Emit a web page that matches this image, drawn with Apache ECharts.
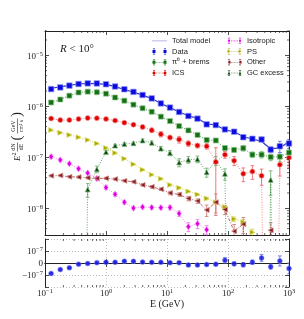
<!DOCTYPE html>
<html><head><meta charset="utf-8">
<script src="https://cdn.jsdelivr.net/npm/echarts@6/dist/echarts.min.js"></script>
<style>html,body{margin:0;padding:0;background:#fff}#c{width:304px;height:319px}</style>
</head><body><div id="c"></div>
<script>
// value used for points that fall below the plotted range (zero / negative in the original)
const OFF = 1e-20;
const energies = [0.126,0.178,0.251,0.355,0.501,0.708,1.0,1.41,2.0,2.82,3.98,5.62,7.94,11.2,15.8,22.4,31.6,44.7,63.1,89.1,126,178,251,355,501,708,1000];
const dataFlux = [2.18e-6,2.35e-6,2.55e-6,2.74e-6,2.82e-6,2.81e-6,2.71e-6,2.45e-6,2.16e-6,1.92e-6,1.67e-6,1.43e-6,1.14e-6,9.46e-7,7.75e-7,6.46e-7,5.74e-7,4.43e-7,4.29e-7,3.53e-7,3.18e-7,2.48e-7,2.31e-7,2.24e-7,1.42e-7,1.65e-7,1.87e-7];
const dataErr = [0.02,0.02,0.02,0.02,0.02,0.02,0.02,0.02,0.02,0.02,0.02,0.025,0.025,0.03,0.03,0.035,0.04,0.045,0.05,0.06,0.07,0.08,0.09,0.1,0.12,0.25,0.2];
const totalModel = [2.26e-6,2.40e-6,2.58e-6,2.74e-6,2.82e-6,2.80e-6,2.70e-6,2.44e-6,2.14e-6,1.90e-6,1.66e-6,1.42e-6,1.14e-6,9.45e-7,7.74e-7,6.55e-7,5.82e-7,4.50e-7,4.34e-7,3.42e-7,3.21e-7,2.53e-7,2.29e-7,2.05e-7,1.47e-7,1.53e-7,2.05e-7];
const pi0Flux = [1.19e-6,1.36e-6,1.62e-6,1.87e-6,1.94e-6,1.89e-6,1.77e-6,1.49e-6,1.29e-6,1.08e-6,9.17e-7,7.82e-7,6.28e-7,5.14e-7,4.10e-7,3.37e-7,2.75e-7,2.19e-7,2.14e-7,1.52e-7,1.40e-7,1.51e-7,1.13e-7,1.13e-7,1.01e-7,1.03e-7,1.24e-7];
const pi0Err = [0.04,0.04,0.035,0.03,0.03,0.03,0.03,0.03,0.03,0.03,0.035,0.035,0.04,0.04,0.05,0.05,0.06,0.07,0.08,0.09,0.1,0.12,0.12,0.14,0.15,0.2,0.2];
const icsFlux = [5.77e-7,5.38e-7,5.38e-7,5.64e-7,5.90e-7,5.87e-7,5.66e-7,5.26e-7,4.79e-7,4.37e-7,3.95e-7,3.40e-7,2.85e-7,2.45e-7,2.24e-7,1.87e-7,1.70e-7,1.65e-7,8.11e-8,1.13e-7,8.61e-8,4.76e-8,5.28e-8,4.35e-8,OFF,7.18e-8,9.86e-8];
const icsErr = [0.06,0.05,0.05,0.05,0.05,0.05,0.05,0.05,0.06,0.07,0.08,0.1,0.12,0.1,0.15,0.12,0.1,0.12,0.9,0.15,0.2,0.3,0.3,0.35,0,0.4,0.35];
const isoFlux = [1.03e-7,8.89e-8,7.50e-8,5.98e-8,4.92e-8,3.83e-8,2.55e-8,1.89e-8,1.32e-8,1.01e-8,1.06e-8,1.04e-8,1.03e-8,1.04e-8,7.89e-9,4.37e-9,5.01e-9,3.81e-9,OFF,OFF,OFF,OFF,OFF,OFF,OFF,OFF,OFF];
const isoErr = [0.08,0.06,0.06,0.06,0.06,0.06,0.08,0.08,0.08,0.08,0.08,0.08,0.08,0.1,0.12,0.2,0.2,0.2,0,0,0,0,0,0,0,0,0];
const psFlux = [3.42e-7,3.03e-7,2.75e-7,2.48e-7,2.19e-7,1.87e-7,1.53e-7,1.22e-7,9.42e-8,7.34e-8,5.71e-8,4.55e-8,3.79e-8,2.88e-8,2.52e-8,2.15e-8,1.87e-8,1.56e-8,1.32e-8,1.06e-8,6.15e-9,5.36e-9,3.40e-9,OFF,OFF,OFF,OFF];
const psErr = [0.04,0.04,0.04,0.04,0.04,0.04,0.04,0.04,0.04,0.04,0.04,0.04,0.05,0.05,0.05,0.05,0.05,0.06,0.06,0.08,0.1,0.12,0.15,0,0,0,0];
const otherFlux = [4.35e-8,4.41e-8,4.16e-8,4.10e-8,3.97e-8,3.88e-8,3.88e-8,3.74e-8,3.47e-8,3.31e-8,2.88e-8,2.64e-8,2.37e-8,2.00e-8,1.87e-8,1.56e-8,1.39e-8,9.25e-9,1.32e-8,9.46e-9,3.56e-9,4.90e-9,OFF,OFF,3.72e-9,OFF,OFF];
const otherErr = [0.05,0.05,0.05,0.05,0.05,0.05,0.05,0.05,0.05,0.05,0.06,0.06,0.06,0.08,0.08,0.1,0.1,0.25,0.45,0.2,0.35,0.35,0,0,0.4,0,0];
const gcFlux = [OFF,OFF,OFF,OFF,2.35e-8,5.85e-8,1.27e-7,1.70e-7,1.82e-7,1.89e-7,2.14e-7,1.93e-7,1.49e-7,1.22e-7,7.96e-8,9.01e-8,9.20e-8,5.10e-8,8.61e-8,4.76e-8,OFF,OFF,OFF,OFF,3.62e-8,OFF,OFF];
const gcErr = [0,0,0,0,0.3,0.15,0.08,0.06,0.06,0.06,0.07,0.08,0.1,0.12,0.18,0.15,0.15,0.2,0.2,0.25,0,0,0,0,0.5,0,0];
const residual = [-8.7e-8,-5.5e-8,-4.0e-8,-1.0e-8,-0.4e-8,0.3e-8,0.7e-8,0.7e-8,1.5e-8,1.4e-8,0.8e-8,0.6e-8,0.6e-8,0.3e-8,0.3e-8,-1.7e-8,-1.7e-8,-1.3e-8,-1.0e-8,2.3e-8,-0.7e-8,-1.4e-8,0.7e-8,4.2e-8,-3.1e-8,1.7e-8,-4.5e-8];
const residualErr = [0.4e-8,0.4e-8,0.4e-8,0.4e-8,0.4e-8,0.4e-8,0.4e-8,0.4e-8,0.4e-8,0.4e-8,0.5e-8,0.5e-8,0.5e-8,0.6e-8,0.6e-8,0.7e-8,0.7e-8,0.8e-8,0.9e-8,2.2e-8,1.5e-8,1.8e-8,1.7e-8,2.8e-8,2.0e-8,4.2e-8,4.5e-8];
const xMinorTicks = [0.2,0.3,0.4,0.5,0.6,0.7,0.8,0.9,2,3,4,5,6,7,8,9,20,30,40,50,60,70,80,90,200,300,400,500,600,700,800,900];
const yMinorTicks = [4e-9,5e-9,6e-9,7e-9,8e-9,9e-9,2e-8,3e-8,4e-8,5e-8,6e-8,7e-8,8e-8,9e-8,2e-7,3e-7,4e-7,5e-7,6e-7,7e-7,8e-7,9e-7,2e-6,3e-6,4e-6,5e-6,6e-6,7e-6,8e-6,9e-6,2e-5,3e-5];

const SERIF = 'Liberation Serif';
const SANS = 'Liberation Sans';
const INK = '#222';

function supLabel(exp, neg) {
  return '{b|' + (neg ? '\u221210' : '10') + '}{s|' + (exp < 0 ? '\u2212' + (-exp) : exp) + '}';
}
function logLabel(v) {
  if (v <= 0) return '';
  const l = Math.log10(v), r = Math.round(l);
  if (Math.abs(l - r) > 1e-6) return '';
  return supLabel(r, false);
}
function resLabel(v) {
  if (Math.abs(v) < 1e-12) return '{b|0}';
  const n = v / 1e-7;
  if (Math.abs(n - 1) < 1e-6) return supLabel(-7, false);
  if (Math.abs(n + 1) < 1e-6) return supLabel(-7, true);
  return '';
}
const rich = {
  b: {fontFamily: SERIF, fontSize: 9, color: INK, padding: [2, 0, 0, 0], lineHeight: 10},
  s: {fontFamily: SERIF, fontSize: 6.5, color: INK, verticalAlign: 'top', lineHeight: 7}
};
const axLine = {show: true, lineStyle: {color: INK, width: 1}};
const tick = {show: true, inside: true, length: 4, lineStyle: {color: INK, width: 0.8}};

function xAx(grid, pos, labels) {
  return {type: 'log', logBase: 10, min: 0.1, max: 1000, gridIndex: grid, position: pos,
    axisLine: axLine, axisTick: tick,
    axisLabel: labels ? {show: true, formatter: logLabel, rich: rich, margin: 1} : {show: false},
    splitLine: (grid === 1 && pos === 'bottom') ? {show: true, lineStyle: {color: '#aaa', type: [1, 2], width: 0.8}} : {show: false},
    name: (grid === 1 && pos === 'bottom') ? 'E (GeV)' : '', nameLocation: 'middle', nameGap: 12,
    nameTextStyle: {fontFamily: SERIF, fontSize: 10, color: INK}};
}
function yAxMain(pos, labels) {
  return {type: 'log', logBase: 10, min: 3e-9, max: 3e-5, gridIndex: 0, position: pos,
    axisLine: axLine, axisTick: tick,
    axisLabel: labels ? {show: true, formatter: logLabel, rich: rich, margin: 2} : {show: false},
    splitLine: {show: false}};
}
function yAxRes(pos, labels) {
  return {type: 'value', min: -2e-7, max: 2e-7, interval: 1e-7, gridIndex: 1, position: pos,
    axisLine: axLine, axisTick: tick,
    axisLabel: labels ? {show: true, formatter: resLabel, rich: rich, margin: 2} : {show: false},
    splitLine: labels ? {show: true, lineStyle: {color: '#aaa', type: [1, 2], width: 0.8}} : {show: false}};
}

function errRender(color, capW) {
  return function (params, api) {
    const x = api.value(0), lo = api.value(1), hi = api.value(2);
    const p1 = api.coord([x, lo]), p2 = api.coord([x, hi]);
    const st = {stroke: color, lineWidth: 1};
    return {type: 'group', children: [
      {type: 'line', shape: {x1: p1[0], y1: p1[1], x2: p2[0], y2: p2[1]}, style: st},
      {type: 'line', shape: {x1: p1[0] - capW, y1: p1[1], x2: p1[0] + capW, y2: p1[1]}, style: st},
      {type: 'line', shape: {x1: p2[0] - capW, y1: p2[1], x2: p2[0] + capW, y2: p2[1]}, style: st}
    ]};
  };
}
function errSeries(vals, rel, color, z) {
  const d = [];
  vals.forEach((v, i) => {
    if (v > 1e-15 && rel[i] > 0) d.push([energies[i], Math.max(v * (1 - rel[i]), 1e-15), v * (1 + rel[i])]);
  });
  return {type: 'custom', xAxisIndex: 0, yAxisIndex: 0, data: d, renderItem: errRender(color, 1.8),
    clip: true, silent: true, z: z};
}
function compSeries(name, vals, color, border, lineColor, symbol, size, lineType, z) {
  return {type: 'line', name: name, xAxisIndex: 0, yAxisIndex: 0,
    data: energies.map((e, i) => [e, vals[i]]),
    symbol: symbol, symbolSize: size, showSymbol: true, clip: true,
    itemStyle: {color: color, borderColor: border, borderWidth: 0.7},
    lineStyle: {color: lineColor, width: 1, type: lineType, opacity: 0.85},
    silent: true, z: z};
}

const TRI_R = 'path://M0,0L10,5L0,10z';
const TRI_L = 'path://M10,0L0,5L10,10z';
const TRI_U = 'path://M5,0L10,10L0,10z';

// legend icons (pair of markers with error bars joined by a dotted line)
function mk(kind, cx, cy, r) {
  if (kind === 'sq') return `M${cx-r},${cy-r}h${2*r}v${2*r}h${-2*r}z`;
  if (kind === 'ci') return `M${cx-r},${cy}a${r},${r} 0 1,1 ${2*r},0a${r},${r} 0 1,1 ${-2*r},0z`;
  if (kind === 'di') return `M${cx},${cy-r*1.3}L${cx+r*0.8},${cy}L${cx},${cy+r*1.3}L${cx-r*0.8},${cy}z`;
  if (kind === 'tr') return `M${cx-r},${cy-r}L${cx+r},${cy}L${cx-r},${cy+r}z`;
  if (kind === 'tl') return `M${cx+r},${cy+r}L${cx-r},${cy}L${cx+r},${cy-r}z`;
  return `M${cx},${cy-r}L${cx+r},${cy+r}L${cx-r},${cy+r}z`;
}
function icon(kind, dotted) {
  let p = 'M0,0h0.2v0.2h-0.2zM29.8,13.8h0.2v0.2h-0.2z';
  [4, 26].forEach(x => {
    p += `M${x-0.6},1h1.2v12h-1.2zM${x-2.2},1h4.4v1h-4.4zM${x-2.2},12h4.4v1h-4.4z`;
    p += mk(kind, x, 7, 3);
  });
  if (dotted) [9, 12, 15, 18, 21].forEach(x => { p += `M${x-0.8},6.4h1.6v1.2h-1.6z`; });
  return 'path://' + p;
}
const LINE_ICON = 'path://M0,0h0.2v0.2h-0.2zM29.8,13.8h0.2v0.2h-0.2zM0,6.2h30v1.6h-30z';

const legendBase = {orient: 'vertical', itemWidth: 15, itemHeight: 7, itemGap: 2, padding: 0,
  textStyle: {fontFamily: SANS, fontSize: 7.5, color: INK, lineHeight: 8.7}, itemStyle: {borderWidth: 0},
  selectedMode: false};

const option = {
  animation: false,
  backgroundColor: '#fff',
  title: {text: '{i|R} < 10\u00b0', left: 60, top: 44, padding: 0,
    textStyle: {fontFamily: SERIF, fontSize: 11, fontWeight: 'normal', color: INK,
      rich: {i: {fontFamily: SERIF, fontSize: 11, fontStyle: 'italic', color: INK}}}},
  legend: [
    Object.assign({}, legendBase, {left: 152, top: 36.5, data: [
      {name: 'Total model', icon: LINE_ICON, itemStyle: {color: '#9d9de0'}},
      {name: 'Data', icon: icon('sq', false)},
      {name: '\u03c0\u2070 + brems', icon: icon('sq', true)},
      {name: 'ICS', icon: icon('ci', true)}]}),
    Object.assign({}, legendBase, {left: 227, top: 36.5, data: [
      {name: 'Isotropic', icon: icon('di', true)},
      {name: 'PS', icon: icon('tr', true)},
      {name: 'Other', icon: icon('tl', true)},
      {name: 'GC excess', icon: icon('tu', true)}]})
  ],
  grid: [
    {left: 45, top: 31, width: 244, height: 204, outerBoundsMode: 'none'},
    {left: 45, top: 239, width: 244, height: 48, outerBoundsMode: 'none'}
  ],
  xAxis: [xAx(0, 'bottom', false), xAx(0, 'top', false), xAx(1, 'bottom', true), xAx(1, 'top', false)],
  yAxis: [yAxMain('left', true), yAxMain('right', false), yAxRes('left', true), yAxRes('right', false)],
  graphic: [{
    type: 'group', x: 17, y: 134, rotation: Math.PI / 2, silent: true,
    children: [
      {type: 'text', style: {text: 'E', x: -27, y: 1, font: 'italic 9px ' + SERIF, fill: INK, align: 'left', verticalAlign: 'middle'}},
      {type: 'text', style: {text: '2', x: -21.5, y: -3, font: '6px ' + SERIF, fill: INK, align: 'left', verticalAlign: 'middle'}},
      {type: 'text', style: {text: 'dN', x: -13, y: -3.6, font: '6px ' + SERIF, fill: INK, align: 'center', verticalAlign: 'middle'}},
      {type: 'line', shape: {x1: -17.5, y1: 0.5, x2: -8.5, y2: 0.5}, style: {stroke: INK, lineWidth: 0.6}},
      {type: 'text', style: {text: 'dE', x: -13, y: 4.4, font: '6px ' + SERIF, fill: INK, align: 'center', verticalAlign: 'middle'}},
      {type: 'text', style: {text: '(', x: -4, y: 0.5, font: '15px ' + SERIF, fill: INK, align: 'center', verticalAlign: 'middle'}},
      {type: 'text', style: {text: 'GeV', x: 8, y: -3.6, font: '6px ' + SERIF, fill: INK, align: 'center', verticalAlign: 'middle'}},
      {type: 'line', shape: {x1: 0.5, y1: 0.5, x2: 15.5, y2: 0.5}, style: {stroke: INK, lineWidth: 0.6}},
      {type: 'text', style: {text: 'cm\u00b2 s', x: 8, y: 4.4, font: '5.5px ' + SERIF, fill: INK, align: 'center', verticalAlign: 'middle'}},
      {type: 'text', style: {text: ')', x: 19.5, y: 0.5, font: '15px ' + SERIF, fill: INK, align: 'center', verticalAlign: 'middle'}}
    ]
  }],
  series: [
    // minor ticks (main panel)
    {type: 'custom', xAxisIndex: 0, yAxisIndex: 0, silent: true, z: 10,
      data: xMinorTicks.map(v => [v, 1e-6]),
      renderItem: function (params, api) {
        const cs = params.coordSys, x = api.coord([api.value(0), api.value(1)])[0];
        const st = {stroke: INK, lineWidth: 0.7};
        return {type: 'group', children: [
          {type: 'line', shape: {x1: x, y1: cs.y + cs.height, x2: x, y2: cs.y + cs.height - 2}, style: st},
          {type: 'line', shape: {x1: x, y1: cs.y, x2: x, y2: cs.y + 2}, style: st}]};
      }},
    {type: 'custom', xAxisIndex: 0, yAxisIndex: 0, silent: true, z: 10,
      data: yMinorTicks.map(v => [1, v]),
      renderItem: function (params, api) {
        const cs = params.coordSys, y = api.coord([api.value(0), api.value(1)])[1];
        const st = {stroke: INK, lineWidth: 0.7};
        return {type: 'group', children: [
          {type: 'line', shape: {x1: cs.x, y1: y, x2: cs.x + 2, y2: y}, style: st},
          {type: 'line', shape: {x1: cs.x + cs.width, y1: y, x2: cs.x + cs.width - 2, y2: y}, style: st}]};
      }},
    // minor ticks (residual panel)
    {type: 'custom', xAxisIndex: 2, yAxisIndex: 2, silent: true, z: 10,
      data: xMinorTicks.map(v => [v, 0]),
      renderItem: function (params, api) {
        const cs = params.coordSys, x = api.coord([api.value(0), api.value(1)])[0];
        const st = {stroke: INK, lineWidth: 0.7};
        return {type: 'group', children: [
          {type: 'line', shape: {x1: x, y1: cs.y + cs.height, x2: x, y2: cs.y + cs.height - 2}, style: st},
          {type: 'line', shape: {x1: x, y1: cs.y, x2: x, y2: cs.y + 2}, style: st}]};
      }},
    errSeries(isoFlux, isoErr, '#f08af0', 2),
    errSeries(psFlux, psErr, '#d8d860', 2),
    errSeries(otherFlux, otherErr, '#d08a8a', 2),
    errSeries(gcFlux, gcErr, '#80b880', 2),
    errSeries(icsFlux, icsErr, '#f07a7a', 2),
    errSeries(pi0Flux, pi0Err, '#80c080', 2),
    compSeries('Isotropic', isoFlux, '#dd00dd', '#f7a0f7', '#ff70ff', 'diamond', [4.5, 6.5], [1, 1.5], 3),
    compSeries('PS', psFlux, '#a8a800', '#dede70', '#d4d430', TRI_R, 5, [1, 1.5], 3),
    compSeries('Other', otherFlux, '#8a1c1c', '#cf8f8f', '#b04848', TRI_L, 5, [3, 1.5, 1, 1.5], 3),
    compSeries('GC excess', gcFlux, '#0c4a0c', '#88b888', '#4a9a4a', TRI_U, 5, [1, 1.5], 3),
    compSeries('ICS', icsFlux, '#e00000', '#f59a9a', '#ff6a6a', 'circle', 5, [1, 1.5], 3),
    compSeries('\u03c0\u2070 + brems', pi0Flux, '#137013', '#8cc48c', '#2a8a2a', 'rect', 5, [1, 1.5], 3),
    {type: 'line', name: 'Total model', xAxisIndex: 0, yAxisIndex: 0,
      data: energies.map((e, i) => [e, totalModel[i]]), symbol: 'none', clip: true,
      itemStyle: {color: '#3434cc'}, lineStyle: {color: '#3434cc', width: 1.2}, silent: true, z: 4},
    errSeries(dataFlux, dataErr, '#7080ee', 5),
    {type: 'line', name: 'Data', xAxisIndex: 0, yAxisIndex: 0,
      data: energies.map((e, i) => [e, dataFlux[i]]), symbol: 'rect', symbolSize: 5.5, clip: true,
      itemStyle: {color: '#0a0ae0', borderColor: '#8d96f2', borderWidth: 0.7},
      lineStyle: {width: 0, opacity: 0}, silent: true, z: 6},
    // residuals
    {type: 'custom', xAxisIndex: 2, yAxisIndex: 2, silent: true, clip: true, z: 5,
      data: energies.map((e, i) => [e, residual[i] - residualErr[i], residual[i] + residualErr[i]]),
      renderItem: errRender('#7080ee', 1.8)},
    {type: 'scatter', xAxisIndex: 2, yAxisIndex: 2, symbol: 'circle', symbolSize: 5,
      data: energies.map((e, i) => [e, residual[i]]), silent: true, z: 6,
      itemStyle: {color: '#0a0ae0', borderColor: '#8d96f2', borderWidth: 0.6}}
  ]
};
const chart = echarts.init(document.getElementById('c'), null, {renderer: 'canvas'});
chart.setOption(option);
</script></body></html>
